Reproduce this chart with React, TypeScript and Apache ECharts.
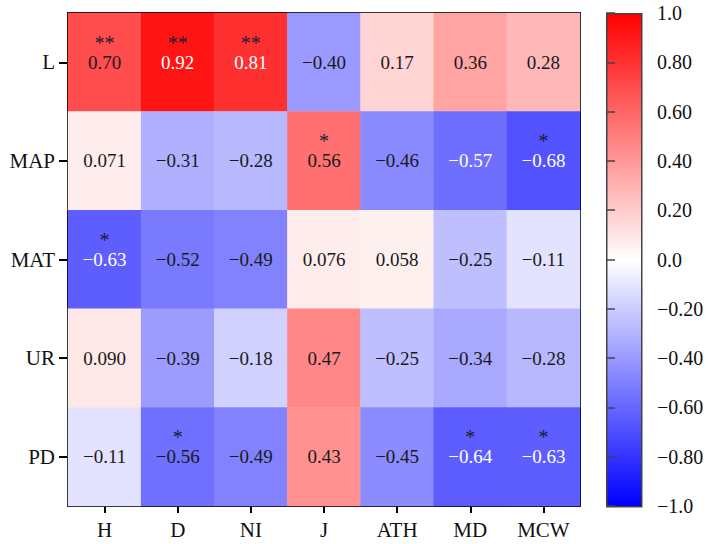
import React, { useEffect, useRef } from "react";
import * as echarts from "echarts";

// Correlation matrix: rows are environmental factors, columns are traits
const columns = ["H", "D", "NI", "J", "ATH", "MD", "MCW"];
const rows = ["L", "MAP", "MAT", "UR", "PD"];

const rowL = [0.70, 0.92, 0.81, -0.40, 0.17, 0.36, 0.28];
const rowMAP = [0.071, -0.31, -0.28, 0.56, -0.46, -0.57, -0.68];
const rowMAT = [-0.63, -0.52, -0.49, 0.076, 0.058, -0.25, -0.11];
const rowUR = [0.090, -0.39, -0.18, 0.47, -0.25, -0.34, -0.28];
const rowPD = [-0.11, -0.56, -0.49, 0.43, -0.45, -0.64, -0.63];

// Significance marks
const sigL = ["**", "**", "**", "", "", "", ""];
const sigMAP = ["", "", "", "*", "", "", "*"];
const sigMAT = ["*", "", "", "", "", "", ""];
const sigUR = ["", "", "", "", "", "", ""];
const sigPD = ["", "*", "", "", "", "*", "*"];

// Colour bar tick values
const barTicks = [1.0, 0.8, 0.6, 0.4, 0.2, 0.0, -0.2, -0.4, -0.6, -0.8, -1.0];

const FONT = "'Liberation Serif', 'Times New Roman', serif";

const fmtValue = (v: number) => {
  const s = Math.abs(v).toPrecision(2);
  return v < 0 ? "\u2212" + s : s;
};

const fmtTick = (v: number) => {
  const r = Math.round(v * 10) / 10;
  const a = Math.abs(r);
  const s = a === 0 || a === 1 ? a.toFixed(1) : a.toFixed(2);
  return r < 0 ? "\u2212" + s : s;
};

export default function App() {
  const ref = useRef<HTMLDivElement>(null);

  useEffect(() => {
    if (!ref.current) return;
    const chart = echarts.init(ref.current, null, { renderer: "svg" });

    const matrix = [rowL, rowMAP, rowMAT, rowUR, rowPD];
    const sigs = [sigL, sigMAP, sigMAT, sigUR, sigPD];
    const data: number[][] = [];
    matrix.forEach((r, yi) => r.forEach((v, xi) => data.push([xi, yi, v])));

    const gridL = { left: 68, top: 13, width: 512, height: 493 };
    const gridBar = { left: 606, top: 13, width: 35, height: 493 };

    const axisLine = { show: true, lineStyle: { color: "#000", width: 2 } };

    chart.setOption({
      animation: false,
      textStyle: { fontFamily: FONT },
      grid: [gridL, gridBar],
      xAxis: [
        {
          type: "category",
          gridIndex: 0,
          data: columns,
          position: "bottom",
          axisLine,
          axisTick: { show: true, length: 7, alignWithLabel: true, lineStyle: { color: "#000", width: 2 } },
          axisLabel: { fontFamily: FONT, fontSize: 21, color: "#111", margin: 13 },
          splitLine: { show: false },
        },
        {
          type: "category",
          gridIndex: 0,
          data: columns,
          position: "top",
          axisLine,
          axisTick: { show: false },
          axisLabel: { show: false },
        },
        {
          type: "value",
          gridIndex: 1,
          show: false,
          min: 0,
          max: 1,
        },
      ],
      yAxis: [
        {
          type: "category",
          gridIndex: 0,
          data: rows,
          inverse: true,
          position: "left",
          axisLine,
          axisTick: { show: true, length: 9, alignWithLabel: true, lineStyle: { color: "#000", width: 2 } },
          axisLabel: { fontFamily: FONT, fontSize: 21, color: "#111", margin: 13 },
          splitLine: { show: false },
        },
        {
          type: "category",
          gridIndex: 0,
          data: rows,
          inverse: true,
          position: "right",
          axisLine,
          axisTick: { show: false },
          axisLabel: { show: false },
        },
        {
          type: "value",
          gridIndex: 1,
          position: "right",
          min: -1,
          max: 1,
          interval: 0.2,
          axisLine: { show: false },
          axisTick: { show: true, length: 9, lineStyle: { color: "#444", width: 1.5 } },
          axisLabel: {
            fontFamily: FONT,
            fontSize: 20,
            color: "#111",
            margin: 16,
            formatter: (v: number) => (barTicks.some((t) => Math.abs(t - v) < 1e-6) ? fmtTick(v) : ""),
          },
          splitLine: { show: false },
        },
      ],
      visualMap: {
        show: false,
        type: "continuous",
        min: -1,
        max: 1,
        dimension: 2,
        seriesIndex: 0,
        inRange: { color: ["#0000ff", "#ffffff", "#ff0000"] },
      },
      graphic: [
        {
          type: "rect",
          left: gridBar.left,
          top: gridBar.top,
          shape: { width: gridBar.width, height: gridBar.height },
          z: 0,
          style: {
            fill: {
              type: "linear",
              x: 0,
              y: 0,
              x2: 0,
              y2: 1,
              colorStops: [
                { offset: 0, color: "#ff0000" },
                { offset: 0.5, color: "#ffffff" },
                { offset: 1, color: "#0000ff" },
              ],
            },
            stroke: "#444",
            lineWidth: 1.5,
          },
        },
      ],
      series: [
        {
          type: "heatmap",
          xAxisIndex: 0,
          yAxisIndex: 0,
          data,
          itemStyle: { borderWidth: 0 },
          emphasis: { disabled: true },
          label: {
            show: true,
            fontFamily: FONT,
            formatter: (p: any) => {
              const [xi, yi, v] = p.data as number[];
              const light = v > 0.75 || v < -0.565;
              const key = light ? "vl" : "vd";
              const star = sigs[yi][xi];
              const txt = `{${key}|${fmtValue(v)}}`;
              return star ? `{s|${star}}\n${txt}\n{s| }` : txt;
            },
            rich: {
              s: { fontFamily: FONT, fontSize: 20, lineHeight: 18, color: "#1c1c2e" },
              vd: { fontFamily: FONT, fontSize: 19, lineHeight: 21, color: "#1a1a1a" },
              vl: { fontFamily: FONT, fontSize: 19, lineHeight: 21, color: "#ffffff" },
            },
          },
        },
      ],
    });

    return () => chart.dispose();
  }, []);

  return (
    <div
      ref={ref}
      style={{ position: "absolute", left: 0, top: 0, width: 709, height: 544, background: "#fff" }}
    />
  );
}
